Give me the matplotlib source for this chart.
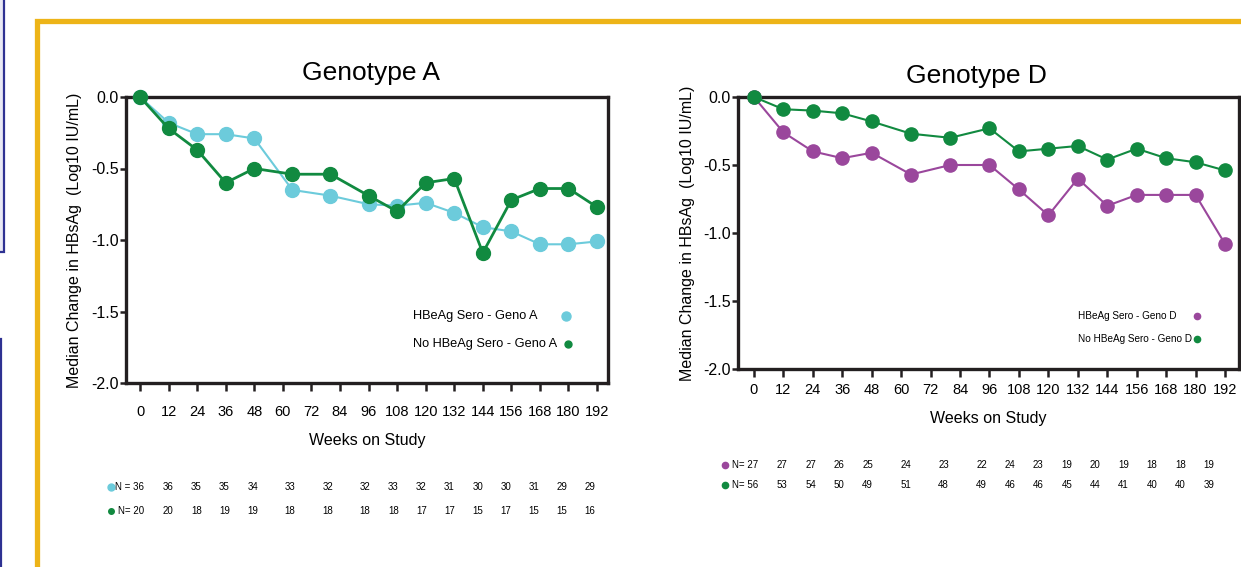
import matplotlib.pyplot as plt
from matplotlib.patches import Rectangle
from matplotlib.transforms import ScaledTranslation

plt.rcParams['font.family'] = ['Liberation Sans', 'DejaVu Sans']

# visit weeks that have a median value
weeks = [0, 12, 24, 36, 48, 64, 80, 96, 108, 120, 132, 144, 156, 168, 180, 192]
tick_weeks = list(range(0, 193, 12))
y_ticks = [0.0, -0.5, -1.0, -1.5, -2.0]
y_tick_labels = ["0.0", "-0.5", "-1.0", "-1.5", "-2.0"]

# genotype A
geno_a_sero = [0.0, -0.18, -0.26, -0.26, -0.29, -0.65, -0.69, -0.75,
               -0.76, -0.74, -0.81, -0.91, -0.94, -1.03, -1.03, -1.01]
geno_a_nosero = [0.0, -0.22, -0.37, -0.60, -0.50, -0.54, -0.54, -0.69,
                 -0.80, -0.60, -0.57, -1.09, -0.72, -0.64, -0.64, -0.77]
n_a_sero = [36, 36, 35, 35, 34, 33, 32, 32, 33, 32, 31, 30, 30, 31, 29, 29]
n_a_nosero = [20, 20, 18, 19, 19, 18, 18, 18, 18, 17, 17, 15, 17, 15, 15, 16]

# genotype D
geno_d_sero = [0.0, -0.26, -0.40, -0.45, -0.41, -0.57, -0.50, -0.50,
               -0.68, -0.87, -0.60, -0.80, -0.72, -0.72, -0.72, -1.08]
geno_d_nosero = [0.0, -0.09, -0.10, -0.12, -0.18, -0.27, -0.30, -0.23,
                 -0.40, -0.38, -0.36, -0.46, -0.38, -0.45, -0.48, -0.54]
n_d_sero = [27, 27, 27, 26, 25, 24, 23, 22, 24, 23, 19, 20, 19, 18, 18, 19]
n_d_nosero = [56, 53, 54, 50, 49, 51, 48, 49, 46, 46, 45, 44, 41, 40, 40, 39]

LIGHT_BLUE = '#6CCBDB'
GREEN = '#118A40'
PURPLE = '#9A479C'
INK = '#231F20'
GOLD = '#EDB418'
NAVY = '#2E3192'

W, H = 1241, 567
fig = plt.figure(figsize=(W / 100, H / 100), dpi=100)


def box(left, top, right, bottom):
    # pixel box (from top-left) -> figure fraction [l, b, w, h]
    return [left / W, 1 - bottom / H, (right - left) / W, (bottom - top) / H]


# slide decorations: navy boxes at the left edge and the gold frame
fig.patches.append(Rectangle((-0.05, 1 - 252.5 / H), 0.05 + 4.5 / W, 252.5 / H + 0.1,
                             transform=fig.transFigure, facecolor='#E9E9F4',
                             edgecolor=NAVY, lw=1.6, zorder=0))
fig.patches.append(Rectangle((-0.05, -0.1), 0.05 + 1.0 / W, 1.1 - 338.5 / H,
                             transform=fig.transFigure, facecolor='#E9E9F4',
                             edgecolor=NAVY, lw=1.6, zorder=0))
fig.patches.append(Rectangle((36.5 / W, -0.1), 1.2, 1.1 - 21 / H,
                             transform=fig.transFigure, facecolor='none',
                             edgecolor=GOLD, lw=3.8, zorder=0))


def panel(rect, title, series, legend, n_rows, cfg):
    ax = fig.add_axes(rect)
    for vals, color, ms, lw in series:
        ax.plot(weeks, vals, '-o', color=color, ms=ms, lw=lw, clip_on=False, zorder=3)
    ax.set_xlim(cfg['xlim'])
    ax.set_ylim(-2.0, 0.0)
    ax.set_xticks(tick_weeks)
    ax.set_xticklabels([str(w) for w in tick_weeks], fontsize=10.5)
    ax.set_yticks(y_ticks)
    ax.set_yticklabels(y_tick_labels, fontsize=11.5)
    for s in ax.spines.values():
        s.set_linewidth(2.4)
        s.set_color(INK)
    ax.tick_params(axis='x', direction='out', length=6, width=1.8, color=INK,
                   pad=cfg['xpad'])
    ax.tick_params(axis='y', direction='out', length=4, width=1.8, color=INK, pad=1)
    ax.set_title(title, fontsize=19, pad=cfg['tpad'], x=cfg['tx'])
    ax.set_xlabel('Weeks on Study', fontsize=11.5, labelpad=cfg['xlpad'])
    ax.set_ylabel('Median Change in HBsAg  (Log10 IU/mL)', fontsize=11.5,
                  labelpad=cfg['ypad'])

    # legend: text first, marker in a column on the right
    for (label, color, ms), (ty, mx) in zip(legend, cfg['legend_pos']):
        ax.text(cfg['legend_x'], ty, label, transform=ax.transAxes, va='center',
                fontsize=cfg['legend_fs'])
        ax.plot([mx], [ty], 'o', color=color, ms=ms, transform=ax.transAxes,
                clip_on=False)

    # number of patients under the axis
    trans = ax.get_xaxis_transform()
    bullet = trans + ScaledTranslation(-0.29, 0, fig.dpi_scale_trans)
    for (prefix, counts, color, ms), row_y in zip(n_rows, cfg['n_y']):
        for i, (w, n) in enumerate(zip(weeks, counts)):
            x = w * cfg['n_spread']
            if i == 0:
                ax.annotate(prefix + str(n), (x, row_y), xycoords=trans,
                            xytext=(4, 0), textcoords='offset pixels',
                            ha='right', va='center', fontsize=7,
                            annotation_clip=False)
                ax.plot([x], [row_y], 'o', color=color, ms=ms, transform=bullet,
                        clip_on=False)
            else:
                ax.text(x, row_y, str(n), transform=trans, ha='center', va='center',
                        fontsize=7)
    return ax


panel(box(126, 97, 608, 383), 'Genotype A',
      [(geno_a_sero, LIGHT_BLUE, 10, 1.5), (geno_a_nosero, GREEN, 10, 2.0)],
      [('HBeAg Sero - Geno A', LIGHT_BLUE, 6.5), ('No HBeAg Sero - Geno A', GREEN, 5)],
      [('N = ', n_a_sero, LIGHT_BLUE, 5), ('N= ', n_a_nosero, GREEN, 4)],
      dict(xlim=(-5.9, 196.6), xpad=10, tpad=12, tx=0.508, xlpad=10, ypad=7,
           legend_x=0.595, legend_fs=9.2,
           legend_pos=[(0.234, 0.913), (0.136, 0.917)],
           n_y=[-0.364, -0.448], n_spread=0.985))

panel(box(738, 97, 1239, 369), 'Genotype D',
      [(geno_d_sero, PURPLE, 9.5, 1.5), (geno_d_nosero, GREEN, 9.5, 1.5)],
      [('HBeAg Sero - Geno D', PURPLE, 4.5), ('No HBeAg Sero - Geno D', GREEN, 4.5)],
      [('N= ', n_d_sero, PURPLE, 4.5), ('N= ', n_d_nosero, GREEN, 4.5)],
      dict(xlim=(-6.5, 197.7), xpad=4, tpad=10, tx=0.476, xlpad=10, ypad=6,
           legend_x=0.679, legend_fs=7.2,
           legend_pos=[(0.195, 0.916), (0.110, 0.916)],
           n_y=[-0.353, -0.426], n_spread=0.966))

fig.savefig('out.png', dpi=100)
